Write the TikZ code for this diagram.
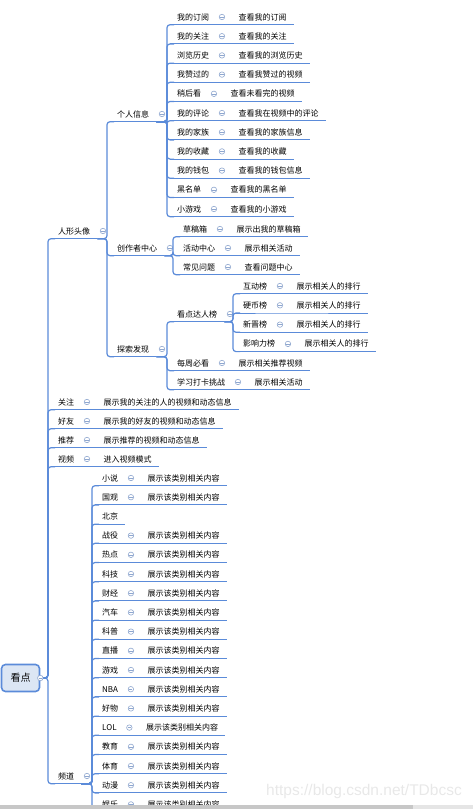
\documentclass[tikz,border=0pt]{standalone}
\usepackage{fontspec}
\usepackage{xcolor}
\usepackage{tikz}
\usetikzlibrary{positioning, calc}

\newfontfamily\cjkfont{Noto Sans CJK SC}
\setsansfont{Liberation Sans}

\definecolor{linkblue}{HTML}{5B8BD9}
\definecolor{foldgray}{HTML}{8FA7CF}
\definecolor{rootfill}{HTML}{DCE6F4}

\tikzset{
  topic/.style={font=\cjkfont\fontsize{8}{9}\selectfont, anchor=west,
    inner xsep=7pt, inner ysep=2.5pt, text height=8pt, text depth=2pt},
  rootbox/.style={font=\cjkfont\fontsize{10}{12}\selectfont, draw=linkblue,
    fill=rootfill, line width=1.6pt, rounded corners=4pt,
    minimum width=38pt, minimum height=27pt},
  uline/.style={draw=linkblue, line width=1pt},
  link/.style={draw=linkblue, line width=1.2pt, rounded corners=3pt},
  fold/.style={circle, draw=foldgray, fill=white, line width=0.6pt,
    minimum size=5.5pt, inner sep=0pt,
    path picture={\draw[foldgray, line width=0.6pt]
      ([xshift=-1.6pt]path picture bounding box.center) --
      ([xshift=1.6pt]path picture bounding box.center);}},
}

\begin{document}
\begin{tikzpicture}[x=1pt, y=-1pt]

\useasboundingbox (0,0) rectangle (473,809);

% =========================================================
% ROOT
% =========================================================
\node[rootbox] (root) at (20.5,678) {看点};

% =========================================================
% FIRST LEVEL
% =========================================================
\node[topic] (avatar) at (51,231) {人形头像};
\node[fold, right=2.5pt of avatar] (avatarf) {};

\foreach \name/\info/\ypos [count=\i] in {
    关注/展示我的关注的人的视频和动态信息/402,
    好友/展示我的好友的视频和动态信息/421,
    推荐/展示推荐的视频和动态信息/440,
    视频/进入视频模式/459} {
  \node[topic] (top\i) at (51,\ypos) {\name};
  \node[fold, right=2.5pt of top\i] (topf\i) {};
  \node[topic, right=6.5pt of topf\i] (topd\i) {\info};
  \draw[uline] (top\i.south west) -- (top\i.south east)
    -- (topd\i.south west) -- (topd\i.south east);
}

\node[topic] (channel) at (51,776) {频道};
\node[fold, right=2.5pt of channel] (channelf) {};

% root connectors
\foreach \n in {avatar, top1, top2, top3, top4, channel}
  \draw[link] (root.east) -| ([xshift=-3pt]\n.south west) -- ([xshift=4pt]\n.south west);
\draw[uline] (avatar.south west) -- (avatar.south east);
\draw[uline] (channel.south west) -- (channel.south east);

% =========================================================
% SECOND LEVEL: avatar
% =========================================================
\node[topic] (info) at (110,114) {个人信息};
\node[fold, right=2.5pt of info] (infof) {};
\node[topic] (creator) at (110,248) {创作者中心};
\node[fold, right=2.5pt of creator] (creatorf) {};
\node[topic] (explore) at (110,349) {探索发现};
\node[fold, right=2.5pt of explore] (exploref) {};

\foreach \n in {info, creator, explore} {
  \draw[link] (avatar.south east) -| ([xshift=-3pt]\n.south west) -- ([xshift=4pt]\n.south west);
  \draw[uline] (\n.south west) -- (\n.south east);
}

% personal info
\foreach \name/\info [count=\i from 0] in {
    我的订阅/查看我的订阅, 我的关注/查看我的关注, 浏览历史/查看我的浏览历史,
    我赞过的/查看我赞过的视频, 稍后看/查看未看完的视频,
    我的评论/查看我在视频中的评论, 我的家族/查看我的家族信息,
    我的收藏/查看我的收藏, 我的钱包/查看我的钱包信息,
    黑名单/查看我的黑名单, 小游戏/查看我的小游戏} {
  \node[topic] (me\i) at (170,17+19.2*\i) {\name};
  \node[fold, right=2.5pt of me\i] (mef\i) {};
  \node[topic, right=6.5pt of mef\i] (med\i) {\info};
  \draw[link] (info.south east) -| ([xshift=-3pt]me\i.south west) -- ([xshift=4pt]me\i.south west);
  \draw[uline] (me\i.south west) -- (me\i.south east)
    -- (med\i.south west) -- (med\i.south east);
}

% creator center
\foreach \name/\info [count=\i from 0] in {
    草稿箱/展示出我的草稿箱, 活动中心/展示相关活动, 常见问题/查看问题中心} {
  \node[topic] (cr\i) at (176,229+19*\i) {\name};
  \node[fold, right=2.5pt of cr\i] (crf\i) {};
  \node[topic, right=6.5pt of crf\i] (crd\i) {\info};
  \draw[link] (creator.south east) -| ([xshift=-3pt]cr\i.south west) -- ([xshift=4pt]cr\i.south west);
  \draw[uline] (cr\i.south west) -- (cr\i.south east)
    -- (crd\i.south west) -- (crd\i.south east);
}

% explore
\node[topic] (rank) at (170,314) {看点达人榜};
\node[fold, right=2.5pt of rank] (rankf) {};
\draw[uline] (rank.south west) -- (rank.south east);
\draw[link] (explore.south east) -| ([xshift=-3pt]rank.south west) -- ([xshift=4pt]rank.south west);

\foreach \name/\info/\ypos [count=\i] in {
    每周必看/展示相关推荐视频/363, 学习打卡挑战/展示相关活动/382} {
  \node[topic] (ex\i) at (170,\ypos) {\name};
  \node[fold, right=2.5pt of ex\i] (exf\i) {};
  \node[topic, right=6.5pt of exf\i] (exd\i) {\info};
  \draw[link] (explore.south east) -| ([xshift=-3pt]ex\i.south west) -- ([xshift=4pt]ex\i.south west);
  \draw[uline] (ex\i.south west) -- (ex\i.south east)
    -- (exd\i.south west) -- (exd\i.south east);
}

% ranking lists
\foreach \name [count=\i from 0] in {互动榜, 硬币榜, 新晋榜, 影响力榜} {
  \node[topic] (rk\i) at (236,286+19.3*\i) {\name};
  \node[fold, right=2.5pt of rk\i] (rkf\i) {};
  \node[topic, right=6.5pt of rkf\i] (rkd\i) {展示相关人的排行};
  \draw[link] (rank.south east) -| ([xshift=-3pt]rk\i.south west) -- ([xshift=4pt]rk\i.south west);
  \draw[uline] (rk\i.south west) -- (rk\i.south east)
    -- (rkd\i.south west) -- (rkd\i.south east);
}

% =========================================================
% SECOND LEVEL: channels
% =========================================================
\foreach \name [count=\i from 0] in {小说, 国观, 北京, 战役, 热点, 科技, 财经,
    汽车, 科普, 直播, 游戏, NBA, 好物, LOL, 教育, 体育, 动漫, 娱乐} {
  \node[topic] (ch\i) at (95,478+19.2*\i) {\name};
  \draw[link] (channel.south east) -| ([xshift=-3pt]ch\i.south west) -- ([xshift=4pt]ch\i.south west);
  \draw[uline] (ch\i.south west) -- (ch\i.south east);
}
\foreach \i in {0,1,3,4,...,17} {
  \node[fold, right=2.5pt of ch\i] (chf\i) {};
  \node[topic, right=6.5pt of chf\i] (chd\i) {展示该类别相关内容};
  \draw[uline] (ch\i.south east) -- (chd\i.south west) -- (chd\i.south east);
}

% root fold on top
\node[fold] (rootf) at (root.east) {};

% watermark and scroll bar
\node[font=\sffamily\fontsize{15.5}{17}\selectfont, text=black!9] (mark) at (364,791) {https://blog.csdn.net/TDbcsc};
\fill[black!22] (0,805) rectangle (413,809);
\fill[black!10] (413,805) rectangle (473,809);

\end{tikzpicture}
\end{document}
